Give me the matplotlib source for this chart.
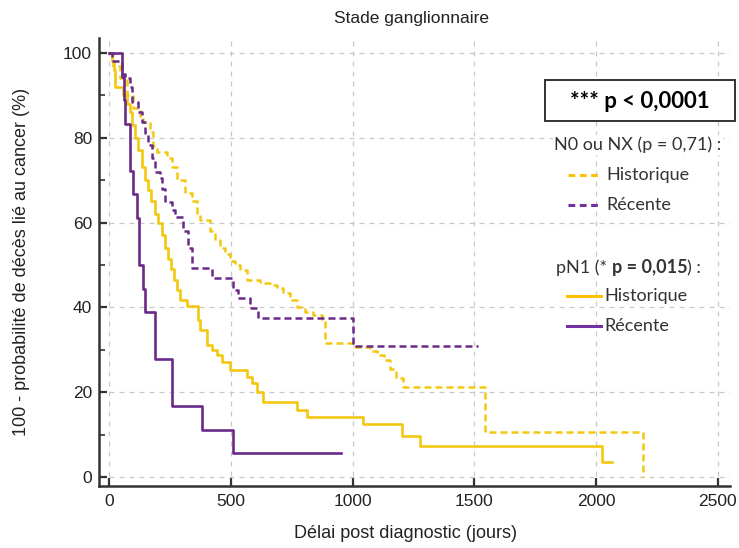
import matplotlib
matplotlib.use("Agg")
import matplotlib.pyplot as plt
from matplotlib.lines import Line2D
from matplotlib.patches import Rectangle

# Kaplan-Meier style step curves (days, %)
pn1_hist_t = [0, 12, 21, 25, 57, 74, 86, 94, 107, 119, 136, 148, 160, 172, 189, 201, 218, 230, 242, 255,
              267, 279, 292, 320, 366, 374, 402, 423, 444, 464, 497, 567, 587, 608, 633, 772, 813, 1043,
              1203, 1277, 2025, 2066]
pn1_hist_s = [100, 98, 96, 92, 90, 88, 86, 83, 80, 77, 73, 70, 67.7, 65, 62, 60, 57, 54, 51.5, 49,
              46.5, 44, 41.7, 40.3, 37, 34.7, 31.1, 30, 28.8, 27.1, 25.2, 23.6, 22.2, 20, 17.7, 15.8, 14.2, 12.5,
              9.7, 7.3, 3.6, 3.6]

pn1_rec_t = [0, 53, 60, 66, 86, 99, 115, 123, 140, 148, 189, 259, 382, 509, 953]
pn1_rec_s = [100, 94.4, 88.9, 83.3, 72.2, 66.7, 61.1, 50.0, 44.4, 38.9, 27.8, 16.7, 11.1, 5.6, 5.6]

n0_hist_t = [0, 16, 45, 74, 99, 127, 140, 168, 181, 197, 238, 259, 279, 312, 341, 361, 374, 415, 435, 456,
             476, 497, 517, 538, 567, 620, 661, 690, 715, 743, 772, 805, 838, 875, 887, 1010, 1072, 1101,
             1130, 1154, 1179, 1207, 1544, 2193]
n0_hist_s = [100, 97, 94, 90, 87, 85, 83.7, 81.4, 78, 76.7, 75.2, 73, 70, 67, 65, 62, 60.6, 58, 56, 54,
             52.5, 51, 50, 48.8, 46.5, 45.8, 45.3, 44.5, 43.4, 41.7, 40, 39, 38.2, 37, 31.7, 30.7, 29.7, 28.8,
             27.6, 25.5, 23.4, 21.2, 10.6, 0]

n0_rec_t = [0, 12, 53, 66, 86, 94, 119, 136, 148, 160, 177, 189, 209, 218, 230, 259, 271, 304, 324, 341,
            423, 509, 530, 580, 612, 1002, 1515]
n0_rec_s = [100, 98, 95, 94, 92, 88.5, 86, 83.7, 81, 78.3, 75.2, 72, 70.5, 68, 64.9, 63, 61.3, 58, 54, 49.3,
            46.9, 44, 42.2, 39.8, 37.5, 31, 31]

x_ticks = [0, 500, 1000, 1500, 2000, 2500]
y_ticks = [0, 20, 40, 60, 80, 100]

YEL = "#F2C811"
PUR = "#6A2A88"
YEL_LEG = "#FFC000"
PUR_LEG = "#7030A0"

fig = plt.figure(figsize=(7.39, 5.48), dpi=100)
W, H = 739, 548
ax = fig.add_axes([99 / W, 1 - 486 / H, (730 - 99) / W, (486 - 38) / H])

ax.step(n0_hist_t, n0_hist_s, where="post", color=YEL, lw=1.8, dashes=(2.8, 1.6))
ax.step(pn1_hist_t, pn1_hist_s, where="post", color=YEL, lw=1.9)
ax.step(n0_rec_t, n0_rec_s, where="post", color=PUR, lw=1.8, dashes=(2.8, 1.6))
ax.step(pn1_rec_t, pn1_rec_s, where="post", color=PUR, lw=1.9)

ax.set_xlim(-41, 2550)
ax.set_ylim(-2.1, 103.5)
ax.set_xticks(x_ticks)
ax.set_yticks(y_ticks)
ax.set_yticks([10, 30, 50, 70, 90], minor=True)
ax.grid(True, which="major", color="#C8C8C8", lw=0.9, dashes=(4, 4))
ax.set_axisbelow(True)

for s in ["top", "right"]:
    ax.spines[s].set_visible(False)
for s in ["left", "bottom"]:
    ax.spines[s].set_color("#333333")
    ax.spines[s].set_linewidth(1.8)

ax.tick_params(axis="both", which="major", direction="in", length=6, width=1.6, color="#333333",
               labelsize=12.5, labelcolor="#222222")
ax.tick_params(axis="x", pad=6)
ax.tick_params(axis="y", pad=5)
ax.tick_params(axis="y", which="minor", direction="in", length=4, width=1.2, color="#333333")
for lab in ax.get_xticklabels() + ax.get_yticklabels():
    lab.set_fontfamily("Liberation Sans")

fig.text(412 / W, 1 - 18 / H, "Stade ganglionnaire", ha="center", va="center",
         fontsize=12.5, family="Liberation Sans", color="#222222")
fig.text(405 / W, 1 - 533 / H, "Délai post diagnostic (jours)", ha="center", va="center",
         fontsize=13, family="Liberation Sans", color="#222222")
fig.text(22 / W, 1 - 262 / H, "100 - probabilité de décès lié au cancer (%)", ha="center", va="center",
         rotation=90, fontsize=13, family="Liberation Sans", color="#222222")

# legend area
fig.patches.append(Rectangle((545 / W, 1 - 121 / H), 190 / W, 41 / H, transform=fig.transFigure,
                             facecolor="white", edgecolor="#333333", lw=1.4, zorder=5))
fig.text(640 / W, 1 - 101 / H, "*** p < 0,0001", ha="center", va="center", fontsize=16,
         weight="bold", family="Lato", color="black", zorder=6)

lfont = dict(fontsize=13, family="Lato", color="#333333", va="center")
wbox = dict(facecolor="white", edgecolor="none", pad=1)
fig.text(554 / W, 1 - 145 / H, "N0 ou NX (p = 0,71) :", bbox=wbox, **lfont)
fig.text(606 / W, 1 - 175 / H, "Historique", bbox=wbox, **lfont)
fig.text(606 / W, 1 - 205 / H, "Récente", bbox=wbox, **lfont)

p1 = fig.text(556 / W, 1 - 268 / H, "pN1 (* ", bbox=wbox, **lfont)
p2 = fig.text(0, 0, "p = 0,015", weight="bold", **lfont)
p2.set_position((0, 0))
p2.remove()
p2 = ax.annotate("p = 0,015", xy=(1, 0), xycoords=p1, ha="left", va="bottom", weight="bold",
                 fontsize=13, family="Lato", color="#333333", annotation_clip=False)
p3 = ax.annotate(") :", xy=(1, 0), xycoords=p2, ha="left", va="bottom",
                 fontsize=13, family="Lato", color="#333333", annotation_clip=False)
fig.text(604 / W, 1 - 296 / H, "Historique", bbox=wbox, **lfont)
fig.text(604 / W, 1 - 326 / H, "Récente", bbox=wbox, **lfont)

leg_lines = [
    (568, 598, 175, YEL_LEG, (2.2, 1.5)),
    (568, 598, 205, PUR_LEG, (2.2, 1.5)),
    (567, 601, 296, YEL_LEG, None),
    (567, 601, 326, PUR_LEG, None),
]
for x0, x1, yy, c, d in leg_lines:
    ln = Line2D([x0 / W, x1 / W], [1 - yy / H, 1 - yy / H], transform=fig.transFigure, color=c, lw=2.2)
    if d:
        ln.set_dashes(d)
    fig.lines.append(ln)

fig.savefig("out.png", dpi=100)
